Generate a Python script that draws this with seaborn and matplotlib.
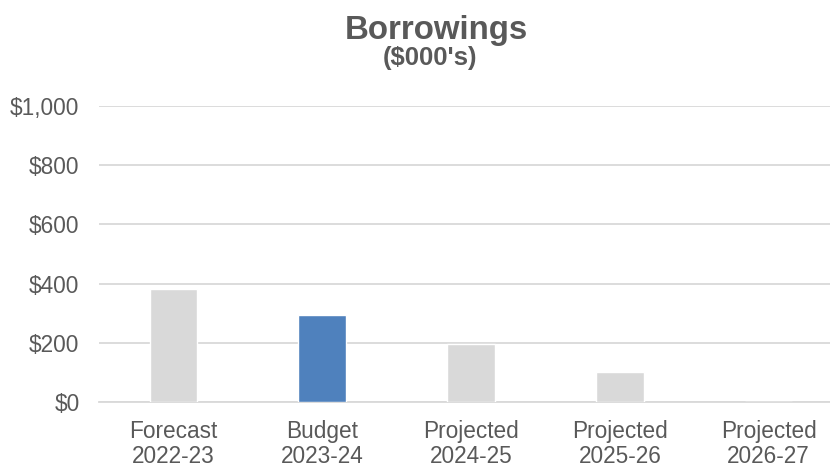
import matplotlib
matplotlib.use("Agg")
import matplotlib.pyplot as plt
import seaborn as sns
import pandas as pd
from matplotlib.ticker import FuncFormatter

# Borrowings by year ($000's)
categories = ["Forecast\n2022-23", "Budget\n2023-24", "Projected\n2024-25",
              "Projected\n2025-26", "Projected\n2026-27"]
borrowings = [383, 294, 196, 100, 0]
bar_colors = ["#D9D9D9", "#4F81BD", "#D9D9D9", "#D9D9D9", "#D9D9D9"]
y_ticks = [0, 200, 400, 600, 800, 1000]

sns.set_theme(style="white")
plt.rcParams["font.family"] = ["Liberation Sans", "DejaVu Sans"]

text_color = "#595959"
grid_color = "#D9D9D9"

df = pd.DataFrame({"category": categories, "value": borrowings})

fig = plt.figure(figsize=(8.3, 4.67), dpi=100)
ax = fig.add_axes([0.1193, 0.1392, 0.8964, 0.6338])

sns.barplot(data=df, x="category", y="value", hue="category",
            palette=dict(zip(categories, bar_colors)), legend=False,
            width=0.32, saturation=1, ax=ax, zorder=3)

ax.set_ylim(0, 1000)
ax.set_yticks(y_ticks)
ax.yaxis.set_major_formatter(FuncFormatter(lambda v, _: f"${v:,.0f}"))
ax.set_xlabel("")
ax.set_ylabel("")

ax.grid(axis="y", color=grid_color, linewidth=1.3, zorder=0)
ax.grid(axis="x", visible=False)
for side in ["top", "right", "left"]:
    ax.spines[side].set_visible(False)
ax.spines["bottom"].set_color(grid_color)
ax.spines["bottom"].set_linewidth(1.3)

ax.tick_params(axis="y", length=0, pad=14, labelsize=16.3, labelcolor=text_color)
ax.tick_params(axis="x", length=0, pad=13, labelsize=16.3, labelcolor=text_color)
for lbl in ax.get_xticklabels():
    lbl.set_linespacing(1.12)

fig.text(436 / 830, 1 - 31 / 467, "Borrowings", ha="center", va="center",
         fontsize=23.8, fontweight="bold", color=text_color)
fig.text(430 / 830, 1 - 58 / 467, "($000's)", ha="center", va="center",
         fontsize=18.5, fontweight="bold", color=text_color)

fig.savefig("out.png", dpi=100, facecolor="white")
